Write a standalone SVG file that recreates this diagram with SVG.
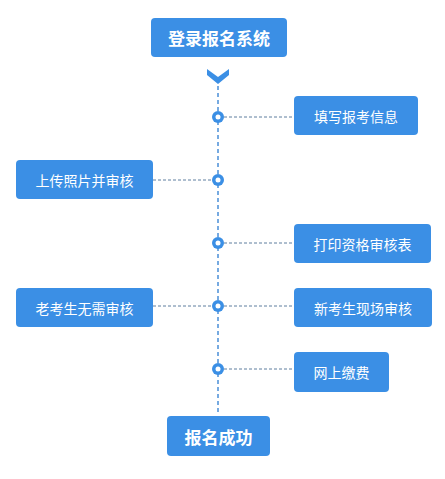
<svg xmlns="http://www.w3.org/2000/svg" width="445" height="479" viewBox="0 0 445 479">
<style>
.box{fill:#3b8fe5;}
.t{fill:#fff;font-family:"Noto Sans CJK SC","Noto Sans",sans-serif;font-size:14px;text-anchor:middle;dominant-baseline:central;}
.tb{fill:#fff;font-family:"Noto Sans CJK SC","Noto Sans",sans-serif;font-size:17px;font-weight:bold;text-anchor:middle;dominant-baseline:central;}
.v{stroke:#4a8fd8;stroke-width:1.5;stroke-dasharray:4 3;fill:none;}
.h{stroke:#5f7f9f;stroke-width:1;stroke-dasharray:3 2;fill:none;}
.dot{fill:#3b8fe5;}
.in{fill:#fff;}
</style>
<rect width="445" height="479" fill="#fff"/>
<g id="connectors">
<line class="v" x1="218" y1="86" x2="218" y2="414"/>
<line class="h" x1="224" y1="117" x2="294" y2="117"/>
<line class="h" x1="153" y1="180" x2="212" y2="180"/>
<line class="h" x1="224" y1="243" x2="294" y2="243"/>
<line class="h" x1="153" y1="306" x2="212" y2="306"/>
<line class="h" x1="224" y1="306" x2="294" y2="306"/>
<line class="h" x1="224" y1="369" x2="294" y2="369"/>
<path d="M207 69 L218 77 L229 69 L229 75 L218 84 L207 75 Z" fill="#3b8fe5"/>
<g id="dots">
<circle class="dot" cx="218" cy="117" r="6"/><circle class="in" cx="218" cy="117" r="2.5"/>
<circle class="dot" cx="218" cy="180" r="6"/><circle class="in" cx="218" cy="180" r="2.5"/>
<circle class="dot" cx="218" cy="243" r="6"/><circle class="in" cx="218" cy="243" r="2.5"/>
<circle class="dot" cx="218" cy="306" r="6"/><circle class="in" cx="218" cy="306" r="2.5"/>
<circle class="dot" cx="218" cy="369" r="6"/><circle class="in" cx="218" cy="369" r="2.5"/>
</g>
</g>
<g id="start"><rect class="box" x="151" y="18" width="136" height="39" rx="4"/><text class="tb" x="219" y="37.5">登录报名系统</text></g>
<g id="n1"><rect class="box" x="294" y="96" width="124" height="39" rx="4"/><text class="t" x="356" y="115.5">填写报考信息</text></g>
<g id="n2"><rect class="box" x="16" y="160" width="137" height="39" rx="4"/><text class="t" x="84.5" y="179.5">上传照片并审核</text></g>
<g id="n3"><rect class="box" x="294" y="224" width="137" height="39" rx="4"/><text class="t" x="362.5" y="243.5">打印资格审核表</text></g>
<g id="n4"><rect class="box" x="16" y="288" width="137" height="39" rx="4"/><text class="t" x="84.5" y="307.5">老考生无需审核</text></g>
<g id="n5"><rect class="box" x="294" y="288" width="138" height="39" rx="4"/><text class="t" x="363" y="307.5">新考生现场审核</text></g>
<g id="n6"><rect class="box" x="294" y="352" width="95" height="40" rx="4"/><text class="t" x="341.5" y="372">网上缴费</text></g>
<g id="end"><rect class="box" x="167" y="416" width="103" height="40" rx="4"/><text class="tb" x="218.5" y="436">报名成功</text></g>
</svg>
